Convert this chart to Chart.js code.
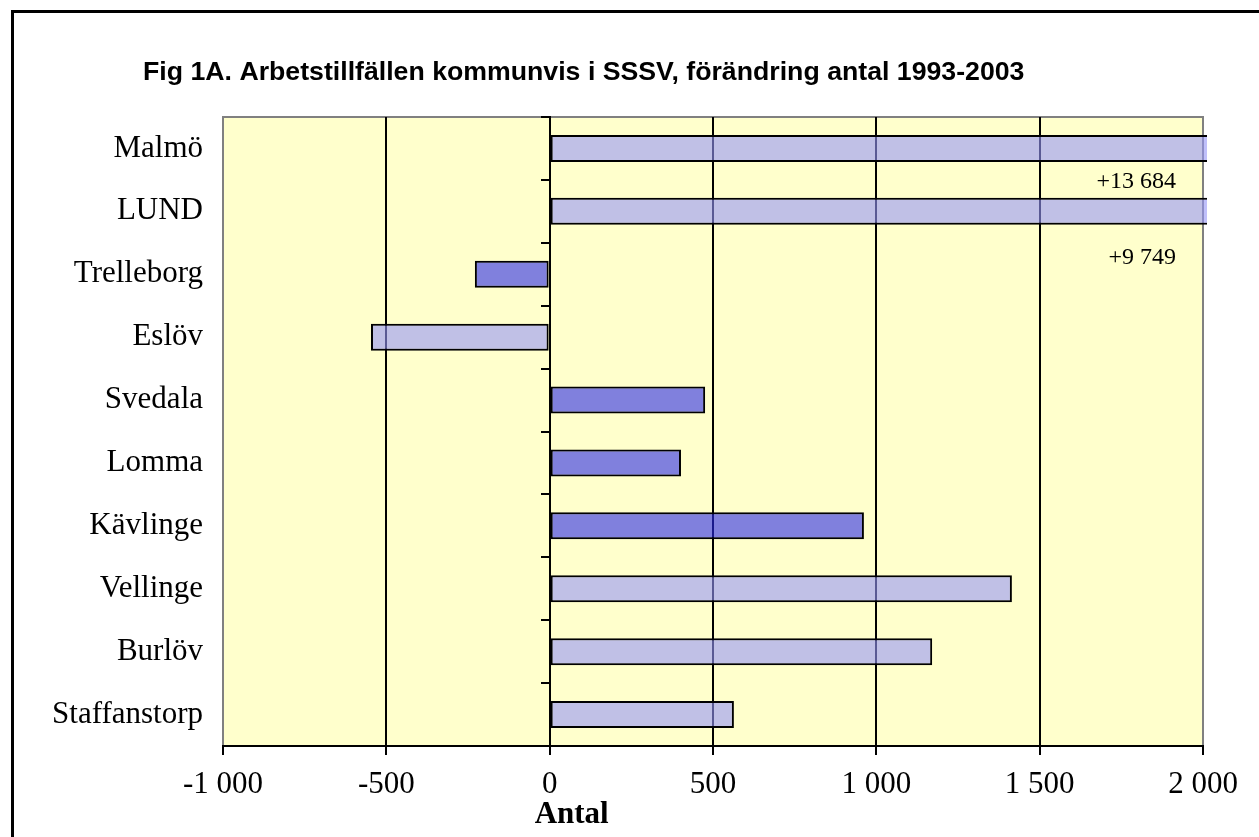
<!DOCTYPE html>
<html>
<head>
<meta charset="utf-8">
<script src="https://cdn.jsdelivr.net/npm/chart.js@4.4.1/dist/chart.umd.min.js"></script>
<style>
  html, body { margin: 0; padding: 0; background: #fff; overflow: hidden; }
  #wrap { position: relative; width: 1259px; height: 837px; }
  #frame { position: absolute; left: 11px; top: 10px; width: 1400px; height: 1000px; border: 3px solid #000; pointer-events: none; }
  canvas { position: absolute; left: 0; top: 0; }
</style>
</head>
<body>
<div id="wrap">
  <canvas id="chart" width="1259" height="837"></canvas>
  <div id="frame"></div>
</div>
<script>
// Fig 1A — arbetstillfällen per kommun, förändring 1993-2003

const kommuner = ['Malmö', 'LUND', 'Trelleborg', 'Eslöv', 'Svedala', 'Lomma', 'Kävlinge', 'Vellinge', 'Burlöv', 'Staffanstorp'];
const forandring = [13684, 9749, -229, -547, 476, 402, 962, 1415, 1171, 564];
const morkaStaplar = ['Trelleborg', 'Svedala', 'Lomma', 'Kävlinge'];
const xMin = -1000, xMax = 2000, xSteg = 500;

// bars that run off the scale get their real value written under them
const utanforSkala = ['Malmö', 'LUND'];
const utanforText = ['+13 684', '+9 749'];
const utanforNedflytt = [0.53, 0.74]; // share of a category band below the bar centre

const rubrik = 'Fig 1A. Arbetstillfällen kommunvis i SSSV, förändring antal 1993-2003';
const serif = "'Liberation Serif', 'Times New Roman', serif";
const sans = "'Liberation Sans', Arial, sans-serif";

function tusental(v) {
  const s = String(Math.abs(v)).replace(/\B(?=(\d{3})+(?!\d))/g, ' ');
  return (v < 0 ? '-' : '') + s;
}

// yellow plot area with grey frame
const plotYta = {
  id: 'plotYta',
  beforeDraw(chart) {
    const { ctx, chartArea: a } = chart;
    ctx.save();
    ctx.fillStyle = '#ffffcc';
    ctx.fillRect(a.left, a.top, a.width, a.height);
    ctx.strokeStyle = '#808080';
    ctx.lineWidth = 2;
    ctx.strokeRect(a.left, a.top, a.width, a.height);
    ctx.restore();
  }
};

const utanforEtiketter = {
  id: 'utanforEtiketter',
  afterDatasetsDraw(chart) {
    const { ctx, chartArea: a } = chart;
    const y = chart.scales.y;
    const band = y.height / kommuner.length;
    ctx.save();
    ctx.font = '24px ' + serif;
    ctx.fillStyle = '#000';
    ctx.textAlign = 'right';
    ctx.textBaseline = 'middle';
    utanforSkala.forEach((namn, i) => {
      const py = y.getPixelForValue(kommuner.indexOf(namn)) + band * utanforNedflytt[i];
      ctx.fillText(utanforText[i], a.right - 27, py);
    });
    ctx.restore();
  }
};

// title starts left of the plot, "Antal" sits a bit right of the zero line
const texter = {
  id: 'texter',
  afterDraw(chart) {
    const { ctx, chartArea: a } = chart;
    const x = chart.scales.x;
    ctx.save();
    ctx.fillStyle = '#000';
    ctx.textBaseline = 'middle';
    ctx.font = 'bold 26.7px ' + sans;
    ctx.textAlign = 'left';
    ctx.fillText(rubrik, a.left - 80, a.top - 44);
    ctx.font = 'bold 31px ' + serif;
    ctx.textAlign = 'center';
    ctx.fillText('Antal', x.getPixelForValue(0) + 22, x.bottom - 22);
    ctx.restore();
  }
};

new Chart(document.getElementById('chart'), {
  type: 'bar',
  data: {
    labels: kommuner,
    datasets: [{
      data: forandring,
      backgroundColor: c => morkaStaplar.includes(kommuner[c.dataIndex]) ? 'rgba(43,43,231,0.6)' : 'rgba(150,150,247,0.6)',
      borderColor: '#000',
      borderWidth: 2,
      borderSkipped: false,
      barPercentage: 0.43,
      categoryPercentage: 1,
      clip: 4
    }]
  },
  options: {
    indexAxis: 'y',
    responsive: false,
    animation: false,
    layout: { padding: { left: 30, right: 56, top: 117, bottom: 0 } },
    plugins: {
      legend: { display: false },
      tooltip: { enabled: false },
      title: { display: false }
    },
    scales: {
      x: {
        min: xMin,
        max: xMax,
        ticks: { stepSize: xSteg, callback: tusental, color: '#000', font: { family: serif, size: 31 }, padding: 11, maxRotation: 0 },
        grid: {
          color: c => (c.tick && (c.tick.value === xMin || c.tick.value === xMax)) ? 'rgba(0,0,0,0)' : '#000',
          lineWidth: 2,
          tickColor: '#000',
          tickLength: 9
        },
        border: { color: '#000', width: 2 },
        afterFit: s => { s.height = 91; }
      },
      y: {
        ticks: { color: '#000', font: { family: serif, size: 31 }, padding: 20 },
        grid: { display: false, drawTicks: false },
        border: { display: false },
        afterFit: s => { s.width = 193; }
      },
      y0: {
        type: 'category',
        position: { x: 0 },
        offset: true,
        ticks: { display: false },
        grid: { offset: true, drawOnChartArea: false, color: '#000', lineWidth: 2, tickLength: 8 },
        border: { color: '#000', width: 2 }
      }
    }
  },
  plugins: [plotYta, utanforEtiketter, texter]
});
</script>
</body>
</html>
